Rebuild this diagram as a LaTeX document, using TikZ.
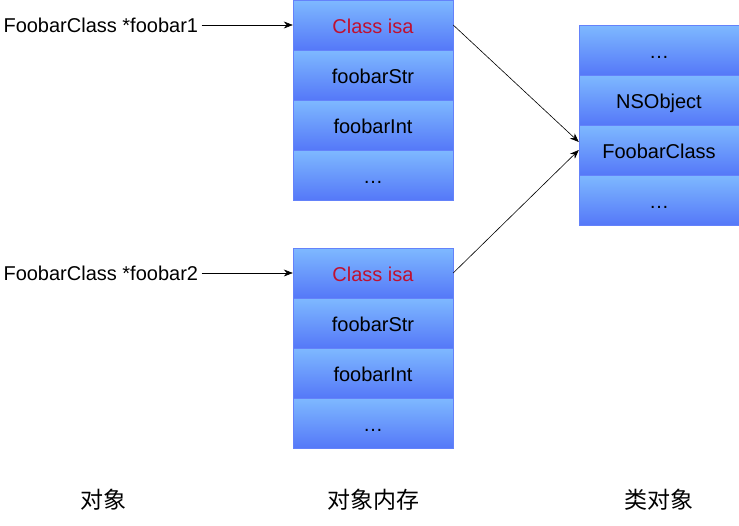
\documentclass[tikz,border=0pt]{standalone}
\usepackage{fontspec}
\setmainfont{Liberation Sans}
\newfontfamily\cjk{Noto Sans CJK SC}
\usepackage{xcolor}
\usepackage{tikz}
\usetikzlibrary{positioning,arrows.meta}
\definecolor{celltop}{HTML}{7EB9FF}
\definecolor{cellbot}{HTML}{5578F8}
\definecolor{cellline}{HTML}{6482FA}
\definecolor{isared}{HTML}{C01030}

\begin{document}
\begin{tikzpicture}[
    x=1pt, y=-1pt,
    cell/.style={draw=cellline, top color=celltop, bottom color=cellbot,
                 minimum width=160pt, minimum height=50pt, inner sep=0pt,
                 text height=20pt, text depth=4pt,
                 font=\fontsize{20}{23}\selectfont},
    ptr/.style={anchor=west, font=\fontsize{20}{23}\selectfont},
    title/.style={font=\cjk\fontsize{23}{27}\selectfont},
    link/.style={-{Stealth[length=9pt,width=7pt]}, line width=0.6pt},
]
\useasboundingbox (0,0) rectangle (739,525);

% first object
\node[cell, text=isared] (a1) at (373,25) {Class isa};
\node[cell, below=-\pgflinewidth of a1] (a2) {foobarStr};
\node[cell, below=-\pgflinewidth of a2] (a3) {foobarInt};
\node[cell, below=-\pgflinewidth of a3] (a4) {\dots};

% second object
\node[cell, text=isared] (b1) at (373,273) {Class isa};
\node[cell, below=-\pgflinewidth of b1] (b2) {foobarStr};
\node[cell, below=-\pgflinewidth of b2] (b3) {foobarInt};
\node[cell, below=-\pgflinewidth of b3] (b4) {\dots};

% class object
\node[cell] (c1) at (659,50) {\dots};
\node[cell, below=-\pgflinewidth of c1] (c2) {NSObject};
\node[cell, below=-\pgflinewidth of c2] (c3) {FoobarClass};
\node[cell, below=-\pgflinewidth of c3] (c4) {\dots};

% pointers
\node[ptr] (p1) at (0,25) {FoobarClass *foobar1};
\node[ptr] (p2) at (0,273) {FoobarClass *foobar2};

\draw[link] (p1.east) -- (a1.west);
\draw[link] (p2.east) -- (b1.west);
\draw[link] (a1.east) -- ([yshift=8pt]c3.west);
\draw[link] (b1.east) -- (c3.west);

% captions
\node[title] (t1) at (103,500) {对象};
\node[title] (t2) at (373,500) {对象内存};
\node[title] (t3) at (659,500) {类对象};
\end{tikzpicture}
\end{document}
